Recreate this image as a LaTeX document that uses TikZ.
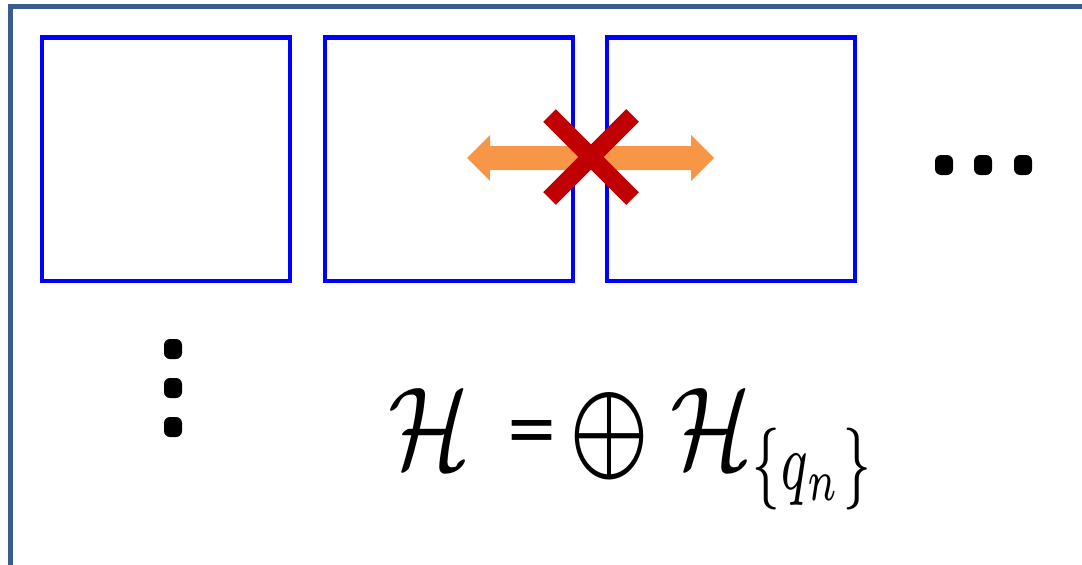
\documentclass[tikz,border=0pt]{standalone}
\usepackage{graphicx}
\usepackage{fontspec}
\newfontfamily\symfont{DejaVu Sans}
\definecolor{framec}{HTML}{385D8A}
\definecolor{boxblue}{RGB}{0,0,255}
\definecolor{arrowor}{HTML}{F79646}
\definecolor{crossred}{HTML}{C00000}
\begin{document}
\begin{tikzpicture}[x=1pt,y=-1pt,
  cell/.style={draw=boxblue,line width=4.5pt,minimum width=248pt,minimum height=243.5pt,inner sep=0pt,outer sep=0pt,anchor=north west},
  dotmark/.style={fill=black,rounded corners=6pt,minimum width=18pt,minimum height=20pt,inner sep=0pt},
  formula/.style={inner sep=0pt,outer sep=0pt}]
\useasboundingbox (0,0) rectangle (1082,565);
\draw[framec,line width=5pt] (10.5,565) -- (10.5,6) -- (1082,6);
\node[cell] (c1) at (41.8,37.5) {};
\node[cell] (c2) at (325,37.5) {};
\node[cell] (c3) at (607,37.5) {};
% double arrow
\fill[arrowor] (467,158) -- (490,135) -- (490,146) -- (691,146) -- (691,135) -- (714,158)
  -- (691,181) -- (691,170) -- (490,170) -- (490,181) -- cycle;
% cross
\draw[crossred,line width=18pt] (549.5,115.5) -- (632.5,198.5) (632.5,115.5) -- (549.5,198.5);
% dots
\node[dotmark] (h1) at (944,165) {};
\node[dotmark] (h2) at (983,165) {};
\node[dotmark] (h3) at (1023,165) {};
\node[dotmark] (v1) at (173,349) {};
\node[dotmark] (v2) at (173,388) {};
\node[dotmark] (v3) at (173,427) {};
% formula
\node[formula,anchor=base west] (fH) at (388,468) {\scalebox{9.6}[11.7]{$\mathcal{H}$}};
\node[formula] (feq) at (531.5,436) {\resizebox*{53pt}{32pt}{\symfont =}};
\node[formula] (fop) at (609,436) {\resizebox*{74pt}{100pt}{$\displaystyle\bigoplus$}};
\node[formula,anchor=base west] (fHq) at (670,468) {\scalebox{9.6}[11.7]{$\mathcal{H}_{\scalebox{0.75}[1]{$\scriptstyle\{q_n\}$}}$}};
\end{tikzpicture}
\end{document}
